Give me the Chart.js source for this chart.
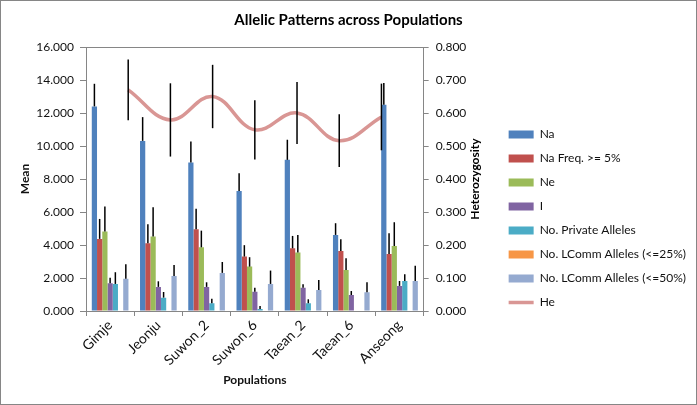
<!DOCTYPE html>
<html>
<head>
<meta charset="utf-8">
<script src="https://cdn.jsdelivr.net/npm/chart.js@4"></script>
<style>
  html, body { margin: 0; padding: 0; background: #fff; }
  #wrap { width: 697px; height: 405px; box-sizing: border-box; border: 1px solid #868686; }
</style>
</head>
<body>
<div id="wrap"><canvas id="alleleChart" width="695" height="403"></canvas></div>
<script>
// populations on the category axis
const populations = ['Gimje', 'Jeonju', 'Suwon_2', 'Suwon_6', 'Taean_2', 'Taean_6', 'Anseong'];

// means (left axis) and their + error bars
const na          = [12.40, 10.31, 9.00, 7.28, 9.16, 4.61, 12.50];
const naErr       = [1.37, 1.44, 1.27, 1.07, 1.22, 0.71, 1.32];
const naFreq      = [4.37, 4.11, 4.96, 3.30, 3.80, 3.64, 3.46];
const naFreqErr   = [1.21, 1.15, 1.24, 0.69, 0.75, 0.71, 1.25];
const ne          = [4.82, 4.51, 3.86, 2.69, 3.54, 2.49, 3.94];
const neErr       = [1.52, 1.78, 1.01, 0.57, 1.07, 0.71, 1.44];
const iIndex      = [1.68, 1.46, 1.46, 1.17, 1.41, 0.97, 1.52];
const iErr        = [0.34, 0.34, 0.28, 0.24, 0.21, 0.24, 0.30];
const privAlleles = [1.64, 0.81, 0.47, 0.12, 0.47, 0.00, 1.82];
const privErr     = [0.71, 0.34, 0.28, 0.18, 0.24, 0.00, 0.41];
const lcomm25     = [0, 0, 0, 0, 0, 0, 0];
const lcomm50     = [1.96, 2.12, 2.31, 1.64, 1.27, 1.13, 1.82];
const lcomm50Err  = [0.87, 0.67, 0.66, 0.81, 0.61, 0.61, 0.93];

// expected heterozygosity (right axis), +/- error
const he    = [0.670, 0.579, 0.650, 0.549, 0.600, 0.516, 0.588];
const heErr = [0.092, 0.111, 0.096, 0.090, 0.094, 0.080, 0.101];

// tick settings
const meanTicks = { min: 0, max: 16, step: 2 };
const hetTicks  = { min: 0, max: 0.8, step: 0.1 };

// the He line sits on its own axis with an empty slot at each end
const heLabels = [''].concat(populations, ['']);
const heData   = [null].concat(he, [null]);
const heErrs   = [null].concat(heErr, [null]);

Chart.defaults.font.family = 'Lato, "Open Sans", sans-serif';
Chart.defaults.color = '#111';

// the line's extra x axis should not split the bar groups in two
if (Chart.BarController.prototype._getAxisCount) {
    Chart.BarController.prototype._getAxisCount = function () { return 1; };
}

const axisGrey = '#868686';

function barSet(label, data, errors, color) {
    return {
        type: 'bar', label: label, data: data, errors: errors,
        backgroundColor: color, borderWidth: 0,
        barPercentage: 1, categoryPercentage: 0.76,
        xAxisID: 'x', yAxisID: 'y', order: 1
    };
}

// black error bars (plus only for bars, both ways for the line)
const errorBars = {
    id: 'errorBars',
    afterDatasetsDraw(chart) {
        const ctx = chart.ctx;
        ctx.save();
        ctx.strokeStyle = '#000';
        ctx.lineWidth = 1.5;
        chart.data.datasets.forEach((ds, di) => {
            if (!ds.errors) return;
            const meta = chart.getDatasetMeta(di);
            const yScale = chart.scales[meta.yAxisID];
            meta.data.forEach((el, i) => {
                const v = ds.data[i], e = ds.errors[i];
                if (v == null || !e) return;
                const lo = ds.type === 'line' ? v - e : v;
                ctx.beginPath();
                ctx.moveTo(el.x, yScale.getPixelForValue(lo));
                ctx.lineTo(el.x, yScale.getPixelForValue(v + e));
                ctx.stroke();
            });
        });
        ctx.restore();
    }
};

// right axis title reads bottom to top like the left one
const rightTitle = {
    id: 'rightTitle',
    afterDraw(chart) {
        const ctx = chart.ctx, area = chart.chartArea;
        ctx.save();
        ctx.translate(474, (area.top + area.bottom) / 2);
        ctx.rotate(-Math.PI / 2);
        ctx.font = 'bold 12px ' + Chart.defaults.font.family;
        ctx.fillStyle = '#000';
        ctx.textAlign = 'center';
        ctx.textBaseline = 'middle';
        ctx.fillText('Heterozygosity', 0, 0);
        ctx.restore();
    }
};

new Chart(document.getElementById('alleleChart'), {
    data: {
        labels: populations,
        datasets: [
            barSet('Na', na, naErr, '#4F81BD'),
            barSet('Na Freq. >= 5%', naFreq, naFreqErr, '#C0504D'),
            barSet('Ne', ne, neErr, '#9BBB59'),
            barSet('I', iIndex, iErr, '#8064A2'),
            barSet('No. Private Alleles', privAlleles, privErr, '#4BACC6'),
            barSet('No. LComm Alleles (<=25%)', lcomm25, null, '#F79646'),
            barSet('No. LComm Alleles (<=50%)', lcomm50, lcomm50Err, '#95AAD0'),
            {
                type: 'line', label: 'He', data: heData, errors: heErrs,
                borderColor: '#D99694', backgroundColor: '#D99694', borderWidth: 3.5,
                pointRadius: 0, tension: 0.4, fill: false,
                xAxisID: 'x2', yAxisID: 'y1', order: 0
            }
        ]
    },
    options: {
        responsive: false,
        animation: false,
        layout: { padding: { left: 0, right: 0, top: 0, bottom: 0 } },
        scales: {
            x: {
                type: 'category',
                offset: true,
                grid: { offset: true, drawOnChartArea: false, tickLength: 5, color: axisGrey },
                border: { color: axisGrey },
                ticks: { minRotation: 45, maxRotation: 45, font: { size: 14 }, padding: 1 },
                title: { display: true, text: 'Populations', font: { size: 12, weight: 'bold' }, padding: { top: 0, bottom: 17 } },
                afterFit: s => { s.height = 93; }
            },
            x2: {
                type: 'category',
                labels: heLabels,
                position: 'top',
                offset: false,
                grid: { display: false },
                border: { display: true, color: axisGrey },
                ticks: { display: false },
                afterFit: s => { s.height = 0; }
            },
            y: {
                position: 'left',
                min: meanTicks.min, max: meanTicks.max,
                ticks: { stepSize: meanTicks.step, callback: v => v.toFixed(3), font: { size: 12 }, padding: 6 },
                grid: { drawOnChartArea: false, tickLength: 6, color: axisGrey },
                border: { color: axisGrey },
                title: { display: true, text: 'Mean', font: { size: 12, weight: 'bold' }, padding: { top: 17, bottom: 0 } },
                afterFit: s => { s.width = 85; }
            },
            y1: {
                position: 'right',
                min: hetTicks.min, max: hetTicks.max,
                ticks: { stepSize: hetTicks.step, callback: v => v.toFixed(3), font: { size: 12 }, padding: 7 },
                grid: { drawOnChartArea: false, tickLength: 5, color: axisGrey },
                border: { color: axisGrey },
                afterFit: s => { s.width = 73; }
            }
        },
        plugins: {
            title: {
                display: true,
                text: 'Allelic Patterns across Populations',
                font: { size: 15, weight: 'bold' },
                color: '#000',
                padding: { top: 10, bottom: 18 }
            },
            legend: {
                position: 'right',
                maxWidth: 203,
                title: { display: true, text: ' ', font: { size: 10, lineHeight: 1 }, padding: { top: 11, bottom: 11 } },
                labels: {
                    usePointStyle: true,
                    pointStyleWidth: 25,
                    boxHeight: 8,
                    padding: 12,
                    font: { size: 12 },
                    color: '#111',
                    sort: (a, b) => a.datasetIndex - b.datasetIndex,
                    generateLabels(chart) {
                        const items = Chart.defaults.plugins.legend.labels.generateLabels(chart);
                        items.forEach(it => {
                            const ds = chart.data.datasets[it.datasetIndex];
                            if (ds.type === 'line') {
                                it.pointStyle = 'line';
                                it.lineWidth = 3.5;
                                it.strokeStyle = ds.borderColor;
                            } else {
                                it.pointStyle = 'rect';
                                it.lineWidth = 0;
                            }
                        });
                        return items;
                    }
                }
            },
            tooltip: { enabled: false }
        }
    },
    plugins: [errorBars, rightTitle]
});
</script>
</body>
</html>
